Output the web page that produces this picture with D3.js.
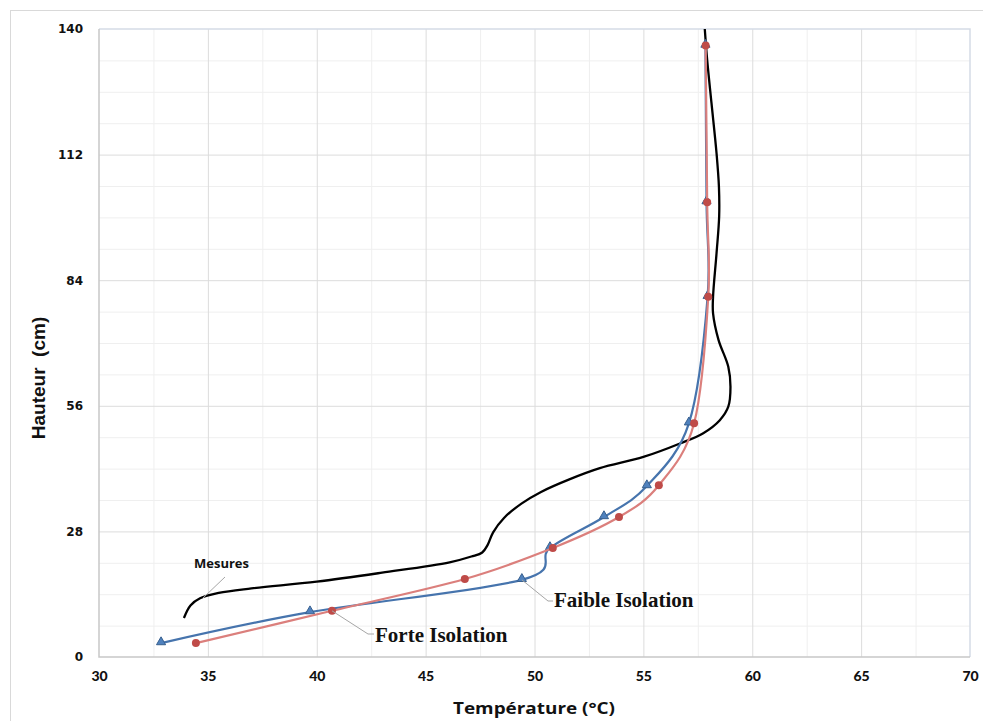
<!DOCTYPE html>
<html>
<head>
<meta charset="utf-8">
<script src="https://cdn.jsdelivr.net/npm/d3@7"></script>
<style>
  body { margin: 0; background: #fff; }
</style>
</head>
<body>
<div id="chart"></div>
<script>
// Data
const tempTicks = [30, 35, 40, 45, 50, 55, 60, 65, 70]
const hautTicks = [0, 28, 56, 84, 112, 140]

// Mesures (no markers)
const mesuresT = [33.9, 34.2, 34.64, 35.5, 37, 40, 43, 46.1, 47.1, 47.6, 47.85, 48.1, 48.6, 49.4, 50.3, 51.6, 53.0, 55.0, 56.68, 57.75, 58.51, 58.9, 59.0, 58.9, 58.45, 58.2, 58.2, 58.36, 58.48, 58.47, 58.36, 58.13, 57.93, 57.82]
const mesuresH = [8.7, 11.5, 13.1, 14.3, 15.3, 16.8, 18.8, 21.1, 22.4, 23.3, 25.0, 27.8, 31.0, 34.2, 36.8, 39.6, 42.1, 44.6, 47.6, 49.9, 52.8, 55.8, 60.2, 64.7, 70.7, 76.6, 80.3, 90, 98.2, 104.8, 112.3, 123.4, 133.1, 140]

// Faible Isolation (triangles)
const faibleT = [32.85, 39.69, 49.42, 50.71, 53.19, 55.16, 57.09, 57.95, 57.9, 57.85]
const faibleH = [3.1, 10.0, 17.2, 24.3, 31.2, 38.1, 52.1, 80.3, 101.4, 136.3]

// Forte Isolation (circles)
const forteT = [34.45, 40.7, 46.8, 50.84, 53.88, 55.71, 57.33, 57.98, 57.93, 57.86]
const forteH = [3.1, 10.3, 17.4, 24.3, 31.2, 38.3, 52.1, 80.3, 101.4, 136.3]

const width = 983,
  height = 721,
  mLeft = 99,
  mRight = 970,
  mTop = 29,
  mBottom = 657

const svg = d3.select('#chart')
  .append('svg')
  .attr('width', width)
  .attr('height', height)

// chart frame
svg.append('rect')
  .attr('x', 10.5).attr('y', 10.5)
  .attr('width', 990).attr('height', 720)
  .attr('fill', 'none')
  .attr('stroke', '#d9d9d9')

const x = d3.scaleLinear().domain([30, 70]).range([mLeft, mRight])
const y = d3.scaleLinear().domain([0, 140]).range([mBottom, mTop])

// minor grid
svg.append('g')
  .attr('transform', `translate(0,${mBottom})`)
  .call(d3.axisBottom(x).tickValues(d3.range(32.5, 70, 5)).tickSize(-(mBottom - mTop)).tickFormat(''))
  .call(g => g.select('.domain').remove())
  .call(g => g.selectAll('line').attr('stroke', '#efefef'))
svg.append('g')
  .attr('transform', `translate(${mLeft},0)`)
  .call(d3.axisLeft(y).tickValues(d3.range(7, 140, 7).filter(v => v % 28 !== 0)).tickSize(-(mRight - mLeft)).tickFormat(''))
  .call(g => g.select('.domain').remove())
  .call(g => g.selectAll('line').attr('stroke', '#efefef'))

// major grid
svg.append('g')
  .attr('transform', `translate(0,${mBottom})`)
  .call(d3.axisBottom(x).tickValues(tempTicks.slice(1, -1)).tickSize(-(mBottom - mTop)).tickFormat(''))
  .call(g => g.select('.domain').remove())
  .call(g => g.selectAll('line').attr('stroke', '#dcdcdc'))
svg.append('g')
  .attr('transform', `translate(${mLeft},0)`)
  .call(d3.axisLeft(y).tickValues(hautTicks.slice(1, -1)).tickSize(-(mRight - mLeft)).tickFormat(''))
  .call(g => g.select('.domain').remove())
  .call(g => g.selectAll('line').attr('stroke', '#dcdcdc'))

// plot border
svg.append('path')
  .attr('d', `M${mLeft},${mTop}H${mRight}V${mBottom}`)
  .attr('fill', 'none').attr('stroke', '#d5dbe6').attr('stroke-width', 1.5)
svg.append('path')
  .attr('d', `M${mLeft},${mTop}V${mBottom}H${mRight}`)
  .attr('fill', 'none').attr('stroke', '#c8c8c8').attr('stroke-width', 1.5)

// axes labels
const xAxis = svg.append('g')
  .attr('transform', `translate(0,${mBottom})`)
  .call(d3.axisBottom(x).tickValues(tempTicks).tickSize(0).tickPadding(14))
xAxis.select('.domain').remove()
xAxis.selectAll('text')
  .attr('font-family', 'Lato, sans-serif')
  .attr('font-weight', 900)
  .attr('font-size', 14)
  .attr('fill', '#111')

const yAxis = svg.append('g')
  .attr('transform', `translate(${mLeft},0)`)
  .call(d3.axisLeft(y).tickValues(hautTicks).tickSize(0).tickPadding(16))
yAxis.select('.domain').remove()
yAxis.selectAll('text')
  .attr('font-family', 'DejaVu Sans, sans-serif')
  .attr('font-weight', 'bold')
  .attr('font-size', 12)
  .attr('fill', '#111')

svg.append('text')
  .attr('x', 534).attr('y', 714)
  .attr('text-anchor', 'middle')
  .attr('font-family', 'Open Sans, sans-serif')
  .attr('font-weight', 'bold')
  .attr('font-size', 16)
  .attr('textLength', 162)
  .attr('lengthAdjust', 'spacingAndGlyphs')
  .attr('fill', '#111')
  .text('Température (°C)')

svg.append('text')
  .attr('transform', 'translate(45,378) rotate(-90)')
  .attr('text-anchor', 'middle')
  .attr('font-family', 'Liberation Sans, Arial, sans-serif')
  .attr('font-weight', 'bold')
  .attr('font-size', 19)
  .attr('fill', '#111')
  .attr('xml:space', 'preserve')
  .text('Hauteur  (cm)')

// curves
const plot = svg.append('g')

// Excel-like smoothing for the model series
const line = d3.line()
  .x(d => x(d[0]))
  .y(d => y(d[1]))
  .curve(d3.curveCardinal.tension(0))

const lineMes = d3.line()
  .x(d => x(d[0]))
  .y(d => y(d[1]))
  .curve(d3.curveCatmullRom.alpha(0.5))

const mesures = mesuresT.map((t, i) => [t, mesuresH[i]])
const faible = faibleT.map((t, i) => [t, faibleH[i]])
const forte = forteT.map((t, i) => [t, forteH[i]])

plot.append('path')
  .datum(mesures)
  .attr('d', lineMes)
  .attr('fill', 'none')
  .attr('stroke', '#000')
  .attr('stroke-width', 2.3)

plot.append('path')
  .datum(faible)
  .attr('d', line)
  .attr('fill', 'none')
  .attr('stroke', '#4674ad')
  .attr('stroke-width', 2.2)

plot.selectAll('.tri')
  .data(faible)
  .enter()
  .append('path')
  .attr('class', 'tri')
  .attr('d', d3.symbol(d3.symbolTriangle, 36))
  .attr('transform', d => `translate(${x(d[0])},${y(d[1]) - 1})`)
  .attr('fill', '#4f81bd')
  .attr('stroke', '#38608f')
  .attr('stroke-width', 1)

plot.append('path')
  .datum(forte)
  .attr('d', line)
  .attr('fill', 'none')
  .attr('stroke', '#db7f7c')
  .attr('stroke-width', 2.2)

plot.selectAll('.dot')
  .data(forte)
  .enter()
  .append('circle')
  .attr('class', 'dot')
  .attr('cx', d => x(d[0]))
  .attr('cy', d => y(d[1]))
  .attr('r', 4)
  .attr('fill', '#bf4b48')

// annotations
const leader = (pts) => svg.append('polyline')
  .attr('points', pts.map(p => p.join(',')).join(' '))
  .attr('fill', 'none')
  .attr('stroke', '#a6a6a6')
  .attr('stroke-width', 1)

leader([[203, 598], [225, 577]])
svg.append('text')
  .attr('x', 194).attr('y', 568)
  .attr('font-family', 'Open Sans, sans-serif')
  .attr('font-weight', 'bold')
  .attr('font-size', 13)
  .attr('fill', '#111')
  .text('Mesures')

leader([[x(forteT[1]), y(forteH[1])], [368, 634], [374, 634]])
svg.append('text')
  .attr('x', 375).attr('y', 642)
  .attr('font-family', 'Liberation Serif, serif')
  .attr('font-weight', 'bold')
  .attr('font-size', 21)
  .attr('fill', '#111')
  .text('Forte Isolation')

leader([[x(faibleT[2]), y(faibleH[2])], [548, 601], [553, 601]])
svg.append('text')
  .attr('x', 554).attr('y', 607)
  .attr('font-family', 'Liberation Serif, serif')
  .attr('font-weight', 'bold')
  .attr('font-size', 21)
  .attr('fill', '#111')
  .text('Faible Isolation')
</script>
</body>
</html>
